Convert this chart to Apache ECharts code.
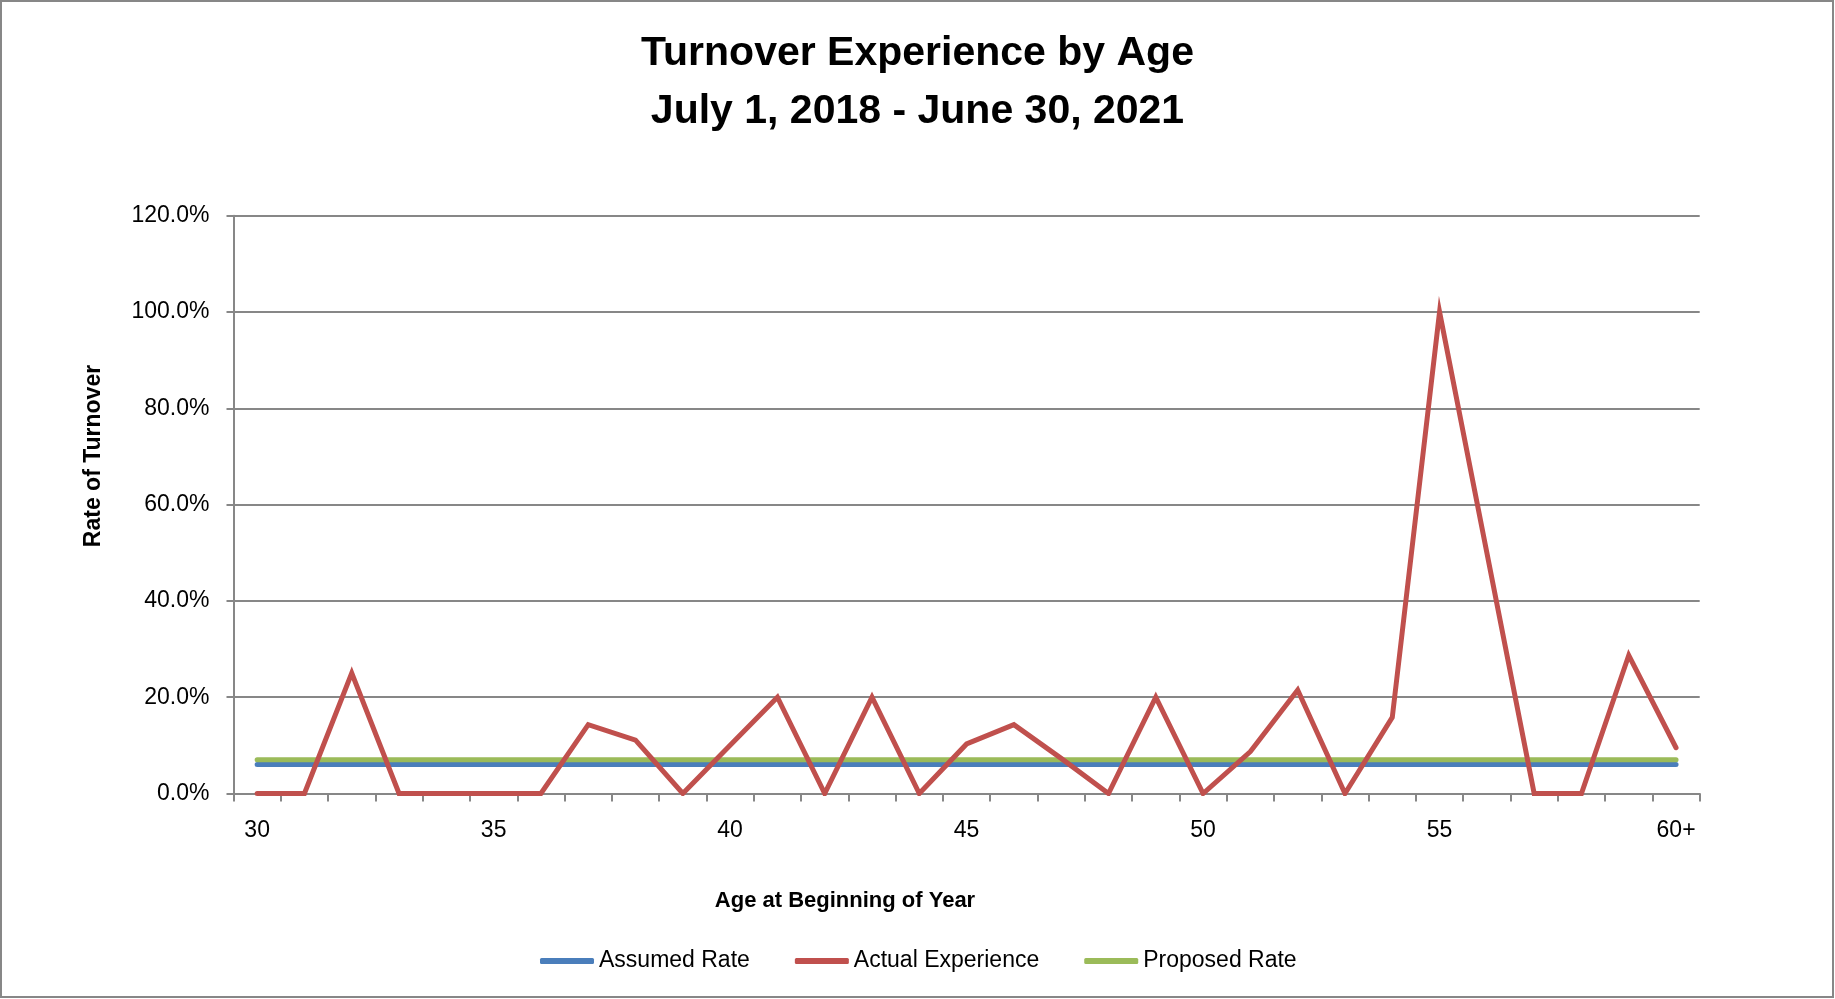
<!DOCTYPE html>
<html>
<head>
<meta charset="utf-8">
<script src="https://cdn.jsdelivr.net/npm/echarts@6/dist/echarts.min.js"></script>
<style>
html,body{margin:0;padding:0;background:#fff;}
#chart{width:1835px;height:999px;}
</style>
</head>
<body>
<div id="chart"></div>
<script>
const categories = ['30','31','32','33','34','35','36','37','38','39','40','41','42','43','44','45','46','47','48','49','50','51','52','53','54','55','56','57','58','59','60+'];
const assumedRate = [6.0,6.0,6.0,6.0,6.0,6.0,6.0,6.0,6.0,6.0,6.0,6.0,6.0,6.0,6.0,6.0,6.0,6.0,6.0,6.0,6.0,6.0,6.0,6.0,6.0,6.0,6.0,6.0,6.0,6.0,6.0];
const actualExperience = [0,0,25.0,0,0,0,0,14.3,11.1,0,10.0,20.0,0,20.0,0,10.3,14.3,7.3,0,20.0,0,8.7,21.5,0,15.8,100.0,50.0,0,0,28.7,9.5];
const proposedRate = [7.0,7.0,7.0,7.0,7.0,7.0,7.0,7.0,7.0,7.0,7.0,7.0,7.0,7.0,7.0,7.0,7.0,7.0,7.0,7.0,7.0,7.0,7.0,7.0,7.0,7.0,7.0,7.0,7.0,7.0,7.0];
const yTicks = {min: 0, max: 120, interval: 20};

const FONT = "'Liberation Sans', Arial, sans-serif";
const GRAY = '#878787';

const chart = echarts.init(document.getElementById('chart'), null, {renderer: 'canvas'});
chart.setOption({
  animation: false,
  backgroundColor: '#ffffff',
  title: [
    {text: 'Turnover Experience by Age', left: 'center', top: 28,
     textStyle: {fontFamily: FONT, fontWeight: 'bold', fontSize: 41, color: '#000'}},
    {text: 'July 1, 2018 - June 30, 2021', left: 'center', top: 86,
     textStyle: {fontFamily: FONT, fontWeight: 'bold', fontSize: 41, color: '#000'}}
  ],
  graphic: [
    {type: 'rect', shape: {x: 1, y: 1, width: 1832, height: 996},
     style: {fill: 'none', stroke: GRAY, lineWidth: 2}, silent: true},
    {type: 'text', x: 845, y: 901,
     style: {text: 'Age at Beginning of Year', fontFamily: FONT, fontWeight: 'bold', fontSize: 22,
             fill: '#000', textAlign: 'center', textVerticalAlign: 'middle'}},
    {type: 'text', x: 94, y: 456, rotation: Math.PI / 2,
     style: {text: 'Rate of Turnover', fontFamily: FONT, fontWeight: 'bold', fontSize: 23,
             fill: '#000', textAlign: 'center', textVerticalAlign: 'middle'}}
  ],
  legend: {
    data: ['Assumed Rate', 'Actual Experience', 'Proposed Rate'],
    left: 535, top: 943,
    itemWidth: 54, itemHeight: 6, itemGap: 45,
    icon: 'roundRect',
    textStyle: {fontFamily: FONT, fontSize: 23, color: '#000', lineHeight: 26}
  },
  grid: {left: 233.5, right: 135.3, top: 215.7, bottom: 205.5, containLabel: false},
  xAxis: {
    type: 'category',
    data: categories,
    boundaryGap: true,
    axisLine: {show: true, lineStyle: {color: GRAY, width: 2}},
    axisTick: {show: true, interval: 0, length: 8, lineStyle: {color: GRAY, width: 2}},
    axisLabel: {interval: 4, margin: 26, fontFamily: FONT, fontSize: 23, color: '#000'},
    splitLine: {show: false}
  },
  yAxis: {
    type: 'value',
    min: yTicks.min, max: yTicks.max, interval: yTicks.interval,
    axisLine: {show: true, lineStyle: {color: GRAY, width: 2}},
    axisTick: {show: true, length: 7, lineStyle: {color: GRAY, width: 2}},
    axisLabel: {margin: 24, fontFamily: FONT, fontSize: 23, color: '#000',
                formatter: v => v.toFixed(1) + '%'},
    splitLine: {show: true, lineStyle: {color: GRAY, width: 2}}
  },
  series: [
    {name: 'Assumed Rate', type: 'line', data: assumedRate, symbol: 'none', z: 2,
     itemStyle: {color: '#4A7EBB'}, lineStyle: {color: '#4A7EBB', width: 5, cap: 'round'}},
    {name: 'Proposed Rate', type: 'line', data: proposedRate, symbol: 'none', z: 3,
     itemStyle: {color: '#9BBB59'}, lineStyle: {color: '#9BBB59', width: 5, cap: 'round'}},
    {name: 'Actual Experience', type: 'line', data: actualExperience, symbol: 'none', z: 4,
     itemStyle: {color: '#C0504D'}, lineStyle: {color: '#C0504D', width: 5, cap: 'round', join: 'miter'}}
  ]
});
</script>
</body>
</html>
